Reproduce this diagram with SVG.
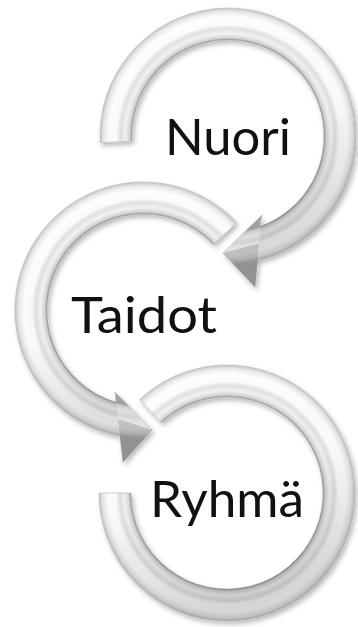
<svg xmlns="http://www.w3.org/2000/svg" width="358" height="627" viewBox="0 0 358 627">
<style>
.lbl{font-family:Lato,"Open Sans","Liberation Sans",sans-serif;font-size:51px;fill:#111}
.ring{stroke:#b8b8b8;stroke-width:0.6}
.shade{stroke:none}
</style>
<defs>
<filter id="sh" x="-20%" y="-20%" width="140%" height="140%">
<feDropShadow dx="2" dy="3" stdDeviation="2.5" flood-color="#000" flood-opacity="0.28"/>
</filter>
<radialGradient id="g1" gradientUnits="userSpaceOnUse" cx="228" cy="136" r="128">
<stop offset="0.66" stop-color="#a0a0a0"/><stop offset="0.75" stop-color="#8e8e8e"/><stop offset="0.765" stop-color="#d2d2d2"/><stop offset="0.80" stop-color="#f4f4f4"/><stop offset="0.84" stop-color="#e2e2e2"/><stop offset="0.87" stop-color="#fdfdfd"/><stop offset="0.93" stop-color="#ffffff"/><stop offset="0.97" stop-color="#ebebeb"/><stop offset="1" stop-color="#c6c6c6"/>
</radialGradient>
<radialGradient id="g2" href="#g1" cx="143" cy="310"/>
<radialGradient id="g3" href="#g1" cx="227" cy="493"/>
<linearGradient id="lt" x1="0" y1="0" x2="0.3" y2="1">
<stop offset="0" stop-color="#000" stop-opacity="0"/><stop offset="0.55" stop-color="#000" stop-opacity="0.02"/><stop offset="1" stop-color="#000" stop-opacity="0.16"/>
</linearGradient>
</defs>
<g id="connectors"></g>
<g id="nuori">
<path id="p1" class="ring" filter="url(#sh)" fill="url(#g1)" d="M100.2 142.7 A128 128 0 1 1 257.6 260.6 L255 287 L223 253 L262 215 L260 226.5 A96 96 0 1 0 132.1 141 Z"/>
<path class="shade" fill="url(#lt)" d="M100.2 142.7 A128 128 0 1 1 257.6 260.6 L255 287 L223 253 L262 215 L260 226.5 A96 96 0 1 0 132.1 141 Z"/>
<path class="shade" fill="#000" fill-opacity="0.12" d="M223 253 L255 287 L258.8 243.5 Z"/>
<path class="shade" fill="#fff" fill-opacity="0.25" d="M223 253 L262 215 L258.8 243.5 Z"/>
<text class="lbl" x="165" y="155" textLength="126" lengthAdjust="spacingAndGlyphs">Nuori</text>
</g>
<g id="taidot">
<path class="ring" filter="url(#sh)" fill="url(#g2)" d="M236.6 222.7 A128 128 0 1 0 120 435.9 L123 462 L152 430 L115 392 L116.2 402.2 A96 96 0 1 1 213.2 244.5 Z"/>
<path class="shade" fill="url(#lt)" d="M236.6 222.7 A128 128 0 1 0 120 435.9 L123 462 L152 430 L115 392 L116.2 402.2 A96 96 0 1 1 213.2 244.5 Z"/>
<path class="shade" fill="#000" fill-opacity="0.12" d="M152 430 L123 462 L118 419 Z"/>
<path class="shade" fill="#fff" fill-opacity="0.25" d="M152 430 L115 392 L118 419 Z"/>
<text class="lbl" x="71" y="333" textLength="146" lengthAdjust="spacingAndGlyphs">Taidot</text>
</g>
<g id="ryhma">
<path class="ring" filter="url(#sh)" fill="url(#g3)" d="M139.7 399.4 A128 128 0 1 1 99 493 L131 493 A96 96 0 1 0 161.5 422.8 Z"/>
<path class="shade" fill="url(#lt)" d="M139.7 399.4 A128 128 0 1 1 99 493 L131 493 A96 96 0 1 0 161.5 422.8 Z"/>
<text class="lbl" x="150" y="517" textLength="154" lengthAdjust="spacingAndGlyphs">Ryhmä</text>
</g>
</svg>
